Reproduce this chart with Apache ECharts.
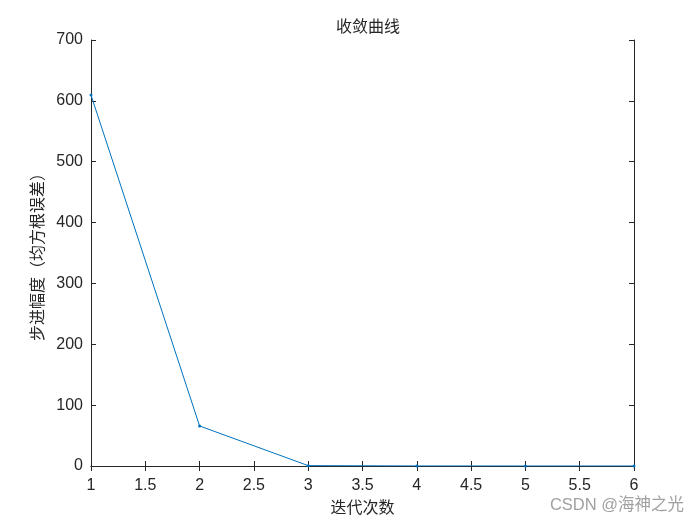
<!DOCTYPE html>
<html><head><meta charset="utf-8">
<script src="https://cdn.jsdelivr.net/npm/echarts@6/dist/echarts.min.js"></script>
<style>html,body{margin:0;padding:0;background:#fff}#c{width:700px;height:525px}</style>
</head><body><div id="c"></div>
<script>
const iterations = [1, 2, 3, 4, 5, 6];
const stepSizes = [609.5, 65.8, 0.6, 0.1, 0.02, 0.01];
const titleText = '收敛曲线';
const xName = '迭代次数';
const yName = '步进幅度（均方根误差）';
const watermark = 'CSDN @海神之光';

const chart = echarts.init(document.getElementById('c'));
const axisCol = '#262626';
const tickFont = {color: axisCol, fontSize: 16, fontFamily: 'Liberation Sans, Arial, sans-serif'};
const cjk = 'Noto Sans CJK SC';
chart.setOption({
  animation: false,
  backgroundColor: '#fff',
  title: {text: titleText, left: 363, top: 13, textAlign: 'center',
    textStyle: {fontSize: 16, fontWeight: 'normal', color: '#262626', fontFamily: cjk}},
  grid: {left: 91, right: 66, top: 40, bottom: 59},
  xAxis: [{
    type: 'value', min: 1, max: 6, interval: 0.5,
    name: xName, nameLocation: 'middle', nameGap: 31,
    nameTextStyle: {fontSize: 16, color: axisCol, fontFamily: cjk},
    axisLine: {lineStyle: {color: axisCol, width: 1}},
    axisTick: {inside: true, length: 5, lineStyle: {color: axisCol}},
    axisLabel: Object.assign({margin: 12}, tickFont),
    splitLine: {show: false}
  }, {
    type: 'value', min: 1, max: 6, interval: 0.5, position: 'top',
    axisLine: {lineStyle: {color: axisCol, width: 1}},
    axisTick: {inside: true, length: 5, lineStyle: {color: axisCol}},
    axisLabel: {show: false}, splitLine: {show: false}
  }],
  yAxis: [{
    type: 'value', min: 0, max: 700, interval: 100,
    name: yName, nameLocation: 'middle', nameGap: 39,
    nameTextStyle: {fontSize: 16, color: axisCol, fontFamily: cjk},
    axisLine: {show: true, lineStyle: {color: axisCol, width: 1}},
    axisTick: {show: true, inside: true, length: 5, lineStyle: {color: axisCol}},
    axisLabel: Object.assign({margin: 8}, tickFont),
    splitLine: {show: false}
  }, {
    type: 'value', min: 0, max: 700, interval: 100, position: 'right',
    axisLine: {show: true, lineStyle: {color: axisCol, width: 1}},
    axisTick: {show: true, inside: true, length: 5, lineStyle: {color: axisCol}},
    axisLabel: {show: false}, splitLine: {show: false}
  }],
  graphic: [{
    type: 'text', right: 16, top: 497,
    style: {text: watermark, fontSize: 16.5, fill: '#a0a0a0', fontFamily: 'Liberation Sans, ' + cjk}
  }],
  series: [{
    type: 'line',
    data: iterations.map((x, i) => [x, stepSizes[i]]),
    symbol: 'circle', symbolSize: 3, showSymbol: true,
    lineStyle: {color: '#0072BD', width: 1},
    itemStyle: {color: '#0072BD'}
  }]
});
</script></body></html>
